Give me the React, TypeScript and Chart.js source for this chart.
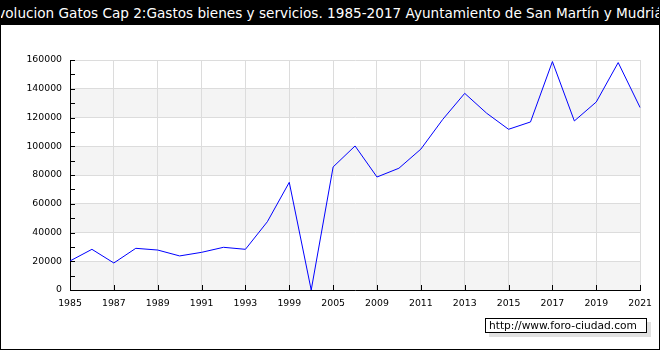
import React, { useEffect, useRef } from "react";
import { Chart, registerables } from "chart.js";

Chart.register(...registerables);

const TITLE =
  "Evolucion Gatos Cap 2:Gastos bienes y servicios. 1985-2017 Ayuntamiento de San Martín y Mudrián";
const WATERMARK = "http://www.foro-ciudad.com";

const categories = [
  "1985", "1986", "1987", "1988", "1989", "1990", "1991", "1992", "1993", "1995",
  "1999", "2003", "2005", "2007", "2009", "2010", "2011", "2012", "2013", "2014",
  "2015", "2016", "2017", "2018", "2019", "2020", "2021",
];

const gastos = [
  20200, 28300, 18800, 29000, 27800, 23700, 26200, 29700, 28300, 47500,
  74900, 0, 85600, 100200, 78600, 84700, 98000, 118700, 136800, 123000,
  111800, 116900, 158900, 117600, 130800, 158200, 126900,
];

const Y_MIN = 0;
const Y_MAX = 160000;
const Y_STEP = 20000;
const Y_MINOR = 10000;

const FONT = "'DejaVu Sans', Verdana, sans-serif";

const bandsPlugin = {
  id: "bands",
  beforeDraw(chart: any) {
    const { ctx, chartArea, scales } = chart;
    const y = scales.y;
    ctx.save();
    ctx.fillStyle = "#f4f4f4";
    for (let v = Y_MIN; v < Y_MAX; v += 2 * Y_STEP) {
      const y0 = y.getPixelForValue(v);
      const y1 = y.getPixelForValue(v + Y_STEP);
      ctx.fillRect(chartArea.left, y1, chartArea.right - chartArea.left, y0 - y1);
    }
    ctx.restore();
  },
};

const innerTicksPlugin = {
  id: "innerTicks",
  afterDraw(chart: any) {
    const { ctx, chartArea, scales } = chart;
    ctx.save();
    ctx.strokeStyle = "#000";
    ctx.lineWidth = 1;
    ctx.beginPath();
    for (let v = Y_MIN; v <= Y_MAX; v += Y_MINOR) {
      const py = Math.round(scales.y.getPixelForValue(v)) + 0.5;
      ctx.moveTo(chartArea.left, py);
      ctx.lineTo(chartArea.left + 5, py);
    }
    categories.forEach((_, i) => {
      if (i % 2 !== 0) return;
      const px = Math.round(scales.x.getPixelForValue(i)) + 0.5;
      ctx.moveTo(px, chartArea.bottom);
      ctx.lineTo(px, chartArea.bottom - 5);
    });
    ctx.stroke();
    ctx.restore();
  },
};

export default function App() {
  const canvasRef = useRef<HTMLCanvasElement | null>(null);

  useEffect(() => {
    document.body.style.margin = "0";
    const canvas = canvasRef.current;
    if (!canvas) return;
    const chart = new Chart(canvas, {
      type: "line",
      data: {
        labels: categories,
        datasets: [
          {
            data: gastos,
            borderColor: "#0000ff",
            borderWidth: 1,
            pointRadius: 0,
            pointHoverRadius: 0,
            tension: 0,
            fill: false,
          },
        ],
      },
      options: {
        responsive: false,
        animation: false,
        events: [],
        layout: { padding: { left: 0, right: 19, top: 60, bottom: 40 } },
        plugins: {
          legend: { display: false },
          title: { display: false },
          tooltip: { enabled: false },
        },
        scales: {
          x: {
            type: "category",
            offset: false,
            afterFit: (s: any) => {
              s.height = 20;
            },
            grid: {
              color: (c: any) => (c.index % 2 === 0 ? "#dcdcdc" : "rgba(0,0,0,0)"),
              drawTicks: false,
              lineWidth: 1,
            },
            border: { color: "#000", width: 1 },
            ticks: {
              autoSkip: false,
              maxRotation: 0,
              minRotation: 0,
              padding: 8,
              color: "#000",
              font: { family: FONT, size: 9.33 },
              callback: (_v: any, i: number) => (i % 2 === 0 ? categories[i] : ""),
            },
          },
          y: {
            min: Y_MIN,
            max: Y_MAX,
            afterFit: (s: any) => {
              s.width = 70;
            },
            grid: { color: "#dcdcdc", drawTicks: false, lineWidth: 1 },
            border: { color: "#000", width: 1 },
            ticks: {
              stepSize: Y_STEP,
              padding: 8,
              color: "#000",
              font: { family: FONT, size: 9.33 },
              callback: (v: any) => String(v),
            },
          },
        },
      },
      plugins: [bandsPlugin, innerTicksPlugin],
    });
    return () => chart.destroy();
  }, []);

  return (
    <div style={{ position: "absolute", left: 0, top: 0, width: 660, height: 350, background: "#fff" }}>
      <canvas ref={canvasRef} width={660} height={350} style={{ position: "absolute", left: 0, top: 0 }} />
      <div
        style={{
          position: "absolute",
          left: 0,
          top: 0,
          width: 660,
          height: 25,
          background: "#000",
          color: "#fff",
          display: "flex",
          justifyContent: "center",
          alignItems: "center",
          overflow: "hidden",
          fontFamily: FONT,
          fontSize: 13.6,
        }}
      >
        <span style={{ flexShrink: 0, whiteSpace: "nowrap" }}>{TITLE}</span>
      </div>
      <div
        style={{
          position: "absolute",
          left: 485,
          top: 318,
          width: 162,
          height: 15,
          boxSizing: "border-box",
          border: "1px solid #000",
          background: "#fff",
          boxShadow: "4px 4px 0 #e0e0e0",
          fontFamily: FONT,
          fontSize: 10.67,
          lineHeight: "13px",
          paddingLeft: 3,
          whiteSpace: "nowrap",
          color: "#000",
        }}
      >
        {WATERMARK}
      </div>
      <div
        style={{
          position: "absolute",
          left: 0,
          top: 0,
          width: 660,
          height: 350,
          boxSizing: "border-box",
          border: "1px solid #000",
          pointerEvents: "none",
        }}
      />
    </div>
  );
}
